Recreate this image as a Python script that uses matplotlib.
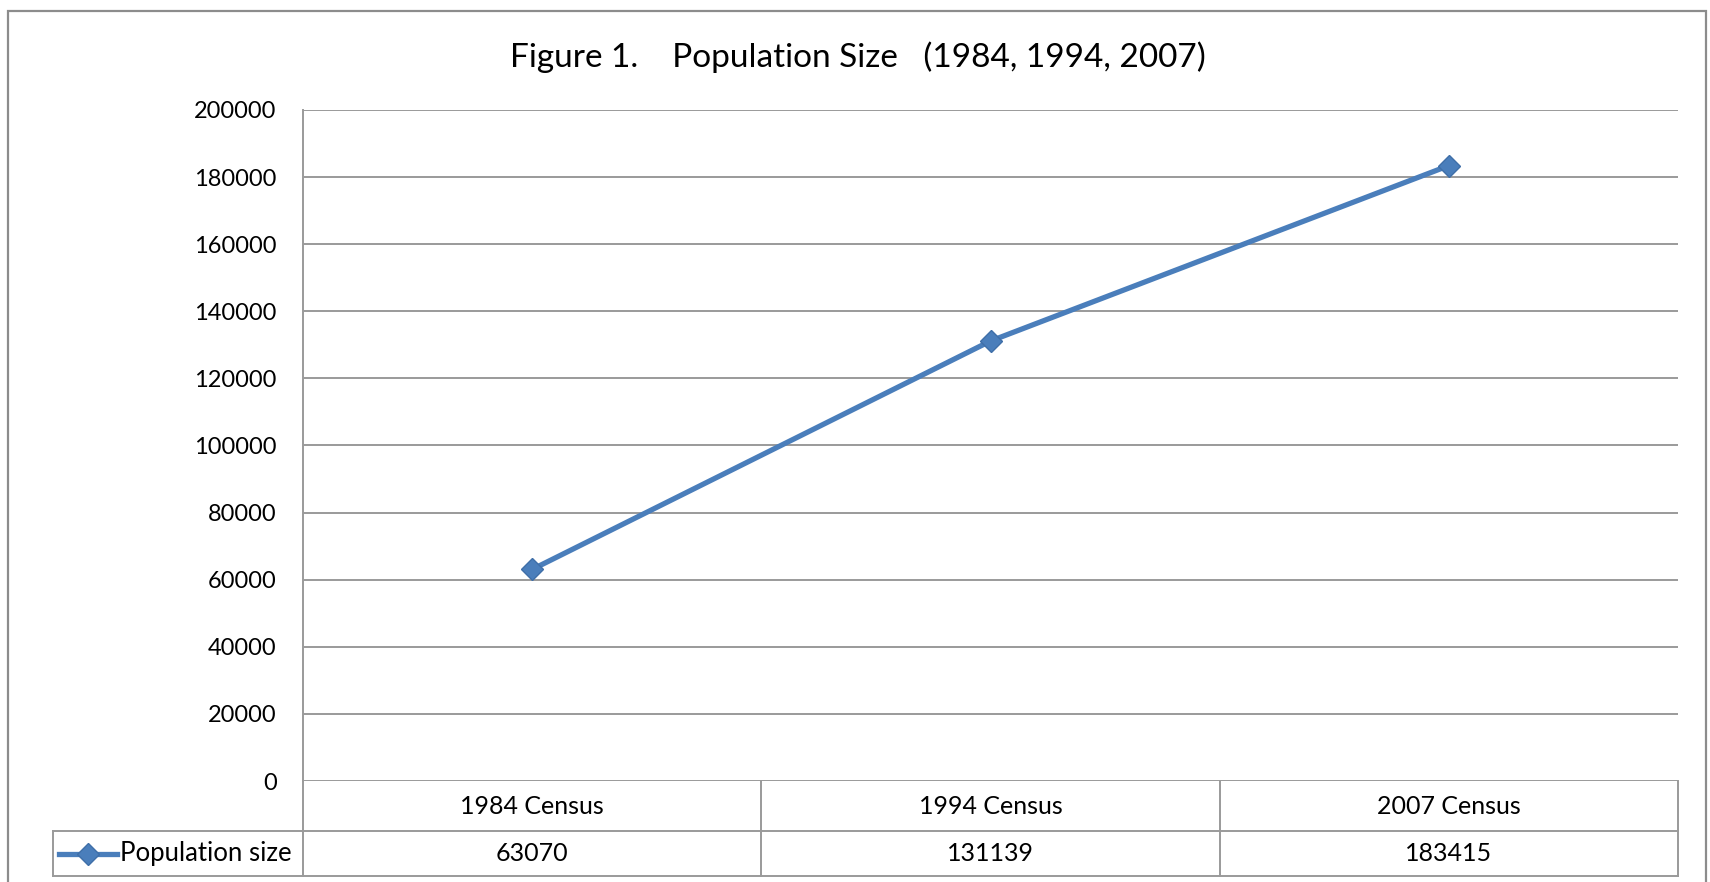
import matplotlib.pyplot as plt
from matplotlib.lines import Line2D
from matplotlib.patches import Rectangle
import matplotlib.transforms as mtransforms

plt.rcParams['font.family'] = ['Lato', 'DejaVu Sans']

# data
categories = ['1984 Census', '1994 Census', '2007 Census']
population = [63070, 131139, 183415]
series_name = 'Population size'
title = 'Figure 1.    Population Size   (1984, 1994, 2007)'
yticks = list(range(0, 200001, 20000))

W, H = 1710, 882
blue = '#4A7EBB'
grid_c = '#9A9A9A'

fig = plt.figure(figsize=(W / 100, H / 100), dpi=100)

# plot area in pixels
left, right, top, bottom = 303, 1678, 110, 781
ax = fig.add_axes([left / W, 1 - bottom / H, (right - left) / W, (bottom - top) / H])

x = list(range(len(categories)))
ax.plot(x, population, color=blue, lw=3.8, marker='D', ms=11,
        mfc=blue, mec='#3F6FA8', mew=1, solid_capstyle='round', zorder=3)

ax.set_xlim(-0.5, len(categories) - 0.5)
ax.set_ylim(0, 200000)
ax.set_yticks(yticks)
ax.set_yticklabels([str(v) for v in yticks], fontsize=17)
ax.tick_params(axis='y', length=0, pad=19)
ax.set_xticks([])
ax.grid(axis='y', color=grid_c, lw=1.4)
ax.set_axisbelow(True)
for s in ['top', 'right', 'bottom']:
    ax.spines[s].set_visible(False)
ax.spines['left'].set_color(grid_c)
ax.spines['left'].set_linewidth(1.4)

# data table below the axis
plot_h = bottom - top
r1 = -(831 - bottom) / plot_h
r2 = -(876 - bottom) / plot_h
unit = (right - left) / len(categories)
xleg = -0.5 - (left - 53) / unit
tr = mtransforms.blended_transform_factory(ax.transData, ax.transAxes)
lkw = dict(color=grid_c, lw=1.4, transform=tr, clip_on=False)
xe = len(categories) - 0.5
ax.plot([-0.5, xe], [r1, r1], **lkw)
ax.plot([xleg, -0.5], [r1, r1], **lkw)
ax.plot([xleg, xe], [r2, r2], **lkw)
ax.plot([xleg, xleg], [r1, r2], **lkw)
for b in [i - 0.5 for i in range(len(categories) + 1)]:
    ax.plot([b, b], [0, r2], **lkw)

for i, (c, v) in enumerate(zip(categories, population)):
    ax.text(i, r1 / 2, c, transform=tr, ha='center', va='center', fontsize=18)
    ax.text(i, (r1 + r2) / 2, str(v), transform=tr, ha='center', va='center', fontsize=18)

# legend key in row label cell
ymid = 1 - 853.5 / H
fig.add_artist(Line2D([59 / W, 117 / W], [ymid, ymid], color=blue, lw=3.8,
                      transform=fig.transFigure))
fig.add_artist(Line2D([88 / W], [ymid], marker='D', ms=11, color=blue, mec='#3F6FA8',
                      mew=1, transform=fig.transFigure))
fig.text(120 / W, ymid, series_name, ha='left', va='center', fontsize=18.5)

fig.text(858 / W, 1 - 57 / H, title, ha='center', va='center', fontsize=24)

# chart border
fig.add_artist(Rectangle((8 / W, -0.05), (1706 - 8) / W, 1.05 - 11 / H,
                         fill=False, ec='#8C8C8C', lw=1.6, transform=fig.transFigure))

fig.savefig('out.png', dpi=100, facecolor='white')
